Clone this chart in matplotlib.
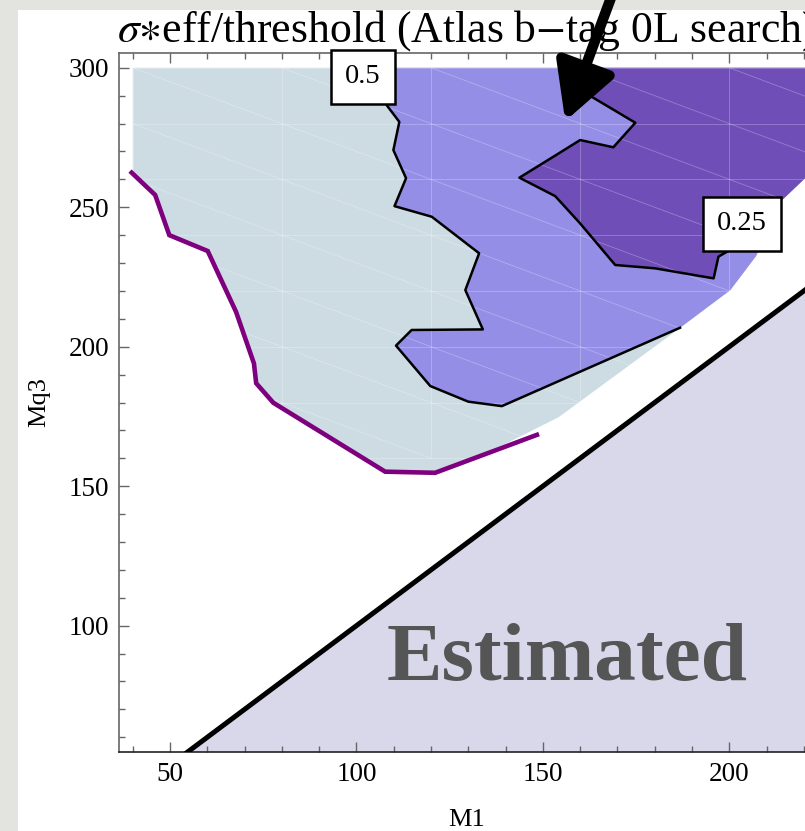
import numpy as np
import matplotlib.pyplot as plt
import matplotlib.ticker as ticker
from matplotlib.patches import Polygon, Rectangle
from matplotlib.collections import LineCollection

plt.rcParams["font.family"] = ["Liberation Serif", "DejaVu Serif"]
plt.rcParams["mathtext.fontset"] = "stix"

# ── Gögn ────────────────────────────────────────────────────────────────────
# Skannað svæði (ljósi flöturinn)
dom_m1  = [40, 40, 46.0, 49.8, 60.1, 67.7, 72.5, 73.1, 77.7, 107.7, 121.1,
           140.3, 154.2, 186.8, 200.3, 207.2, 214.2, 220.4, 250]
dom_mq3 = [300, 262.4, 254.4, 240.0, 234.3, 212.5, 194.0, 186.9, 179.9, 155.2,
           154.8, 165.4, 174.7, 206.7, 220.3, 232.5, 252.6, 260.5, 300]

# Hægri jaðar skannsins (frá enda 0.5-línunnar upp að toppi)
edge_m1  = [186.8, 200.3, 207.2, 214.2, 220.4, 250]
edge_mq3 = [206.7, 220.3, 232.5, 252.6, 260.5, 300]

# Mörk (fjólubláa línan)
lim_m1  = [39.7, 46.0, 49.8, 60.1, 67.7, 72.5, 73.1, 77.7, 107.7, 121.1, 148.4]
lim_mq3 = [262.4, 254.4, 240.0, 234.3, 212.5, 194.0, 186.9, 179.9, 155.2, 154.8, 168.4]

# Jafngildislína 0.5
c50_m1  = [106.0, 108.1, 111.5, 109.9, 113.3, 110.2, 120.2, 132.9, 129.2,
           133.9, 114.8, 110.6, 119.8, 130.0, 139.0, 186.8]
c50_mq3 = [300, 286.6, 280.6, 270.5, 260.4, 250.4, 246.6, 233.5, 220.3,
           206.2, 206.0, 200.4, 185.9, 180.3, 178.7, 206.8]

# Jafngildislína 0.25
c25_m1  = [160.0, 163.1, 174.8, 168.9, 160.0, 152.8, 143.7, 153.3, 160.0,
           169.4, 180.1, 195.8, 197.1, 211.0]
c25_mq3 = [300, 289.6, 280.3, 271.5, 274.1, 268.1, 260.6, 254.0, 244.2,
           229.3, 228.1, 224.5, 232.3, 243.0]

# Áætlað svæði: Mq3 < M1
est_m1  = [30, 250]
est_mq3 = [30, 250]

# Reiknanet (punktar skannsins)
grid_m1  = [40, 80, 120, 160, 200, 240]
grid_mq3 = [160, 180, 200, 220, 240, 260, 280, 300]

labels = [("0.5", 101.8, 296.7), ("0.25", 203.5, 244.0)]

# ── Mynd ────────────────────────────────────────────────────────────────────
fig = plt.figure(figsize=(8.05, 8.31), dpi=100, facecolor="#e3e3df")
fig.patches.append(Rectangle((18 / 805, 0), 1, 1 - 10 / 831,
                             transform=fig.transFigure, fc="white", ec="none",
                             zorder=-5))
ax = fig.add_axes([119 / 805, 1 - 752 / 831, 696 / 805, 699 / 831])
ax.set_facecolor("none")
ax.set_xlim(36.3, 223.0)
ax.set_ylim(54.7, 305.3)

light = Polygon(np.column_stack([dom_m1, dom_mq3]), closed=True,
                fc="#cddce3", ec="none", zorder=1)
ax.add_patch(light)

mid_poly = np.column_stack([c50_m1 + edge_m1[1:], c50_mq3 + edge_mq3[1:]])
ax.add_patch(Polygon(mid_poly, closed=True, fc="#958ee6", ec="none", zorder=1.1))

i0 = edge_m1.index(214.2)
dark_poly = np.column_stack([c25_m1 + edge_m1[i0:], c25_mq3 + edge_mq3[i0:]])
ax.add_patch(Polygon(dark_poly, closed=True, fc="#6f4eb7", ec="none", zorder=1.2))

# daufar línur þríhyrninganetsins
segs = []
for x in grid_m1:
    segs.append([(x, grid_mq3[0]), (x, grid_mq3[-1])])
for y in grid_mq3:
    segs.append([(grid_m1[0], y), (grid_m1[-1], y)])
for i in range(len(grid_m1) - 1):
    for j in range(len(grid_mq3) - 1):
        segs.append([(grid_m1[i], grid_mq3[j + 1]), (grid_m1[i + 1], grid_mq3[j])])
mesh = LineCollection(segs, colors="white", alpha=0.28, linewidths=0.6, zorder=1.5)
ax.add_collection(mesh)
mesh.set_clip_path(light)

ax.plot(c50_m1, c50_mq3, color="black", lw=1.8, zorder=2)
ax.plot(c25_m1, c25_mq3, color="black", lw=1.8, zorder=2)
ax.plot(lim_m1, lim_mq3, color="#7f007f", lw=3.3, zorder=3,
        solid_joinstyle="miter")

ax.fill_between(est_m1, est_mq3, 0, color="#d9d8eb", lw=0, zorder=1)
ax.plot(est_m1, est_mq3, color="black", lw=3.6, zorder=3)
ax.text(156.5, 80.5, "Estimated", fontsize=60, fontweight="bold",
        color="#555555", ha="center", va="baseline", zorder=4)

for txt, x, y in labels:
    ax.text(x, y, txt, fontsize=20.5, ha="center", va="center", zorder=5,
            bbox=dict(boxstyle="square,pad=0.5", fc="white", ec="black", lw=1.8))

# ör
ax.annotate("", xy=(156.0, 280.9), xycoords="data",
            xytext=(612, 836), textcoords="figure pixels",
            arrowprops=dict(arrowstyle="-|>,head_length=3.4,head_width=1.85",
                            mutation_scale=10, lw=7.5, color="black",
                            shrinkA=0, shrinkB=0),
            annotation_clip=False, zorder=6)

ax.set_title(r"$\sigma{\ast}$eff/threshold (Atlas b$-$tag 0L search)",
             fontsize=31.5, pad=2)
ax.set_xlabel("M1", fontsize=19, labelpad=16)
ax.set_ylabel("Mq3", fontsize=19, labelpad=13)

ax.xaxis.set_major_locator(ticker.MultipleLocator(50))
ax.xaxis.set_minor_locator(ticker.MultipleLocator(10))
ax.yaxis.set_major_locator(ticker.MultipleLocator(50))
ax.yaxis.set_minor_locator(ticker.MultipleLocator(10))
ax.tick_params(which="both", direction="in", top=True, right=True,
               color="#666666", width=1.0, labelsize=19.5, pad=7)
ax.tick_params(which="major", length=7.5)
ax.tick_params(which="minor", length=4.5)
for side in ["left", "top", "right"]:
    ax.spines[side].set_color("#666666")
ax.spines["bottom"].set_color("#222222")
for sp in ax.spines.values():
    sp.set_linewidth(1.2)

fig.savefig("out.png", dpi=100, facecolor=fig.get_facecolor())
